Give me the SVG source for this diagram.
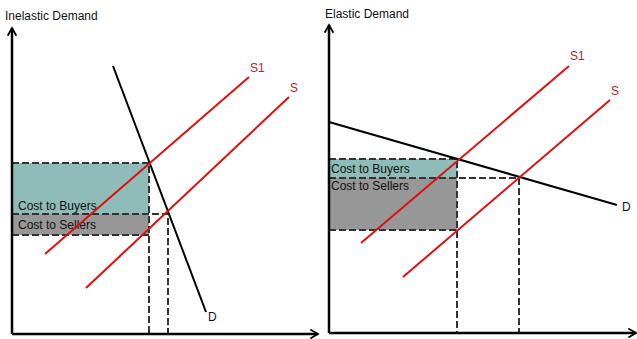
<svg xmlns="http://www.w3.org/2000/svg" width="637" height="339" viewBox="0 0 637 339">
<style>
text{font-family:"Liberation Sans",Arial,sans-serif;font-size:12px;fill:#111}
.red{fill:#c41a1a}
.axis{stroke:#000;stroke-width:2.5;fill:none}
.dem{stroke:#000;stroke-width:2;fill:none}
.sup{stroke:#dd1010;stroke-width:2;fill:none}
.dash{stroke:#333;stroke-width:2;stroke-dasharray:7,3;fill:none}
.buy{fill:#8fbcb8}
.sell{fill:#979797}
</style>
<defs>
<marker id="ah" viewBox="0 0 10 10" refX="8" refY="5" markerWidth="4.4" markerHeight="4.4" orient="auto" markerUnits="strokeWidth">
<path d="M1,1 L8,5 L1,9" fill="none" stroke="#000" stroke-width="1.6"/>
</marker>
</defs>
<g id="left-chart">
<text x="5" y="20">Inelastic Demand</text>
<g id="left-areas">
<rect class="buy" x="12" y="163" width="137" height="51"/>
<rect class="sell" x="12" y="214" width="137" height="21"/>
<text x="18" y="210">Cost to Buyers</text>
<text x="18" y="229">Cost to Sellers</text>
</g>
<g id="left-lines">
<path class="dash" d="M12,163H149V334M12,214H168V334M12,235H149"/>
<path class="dem" d="M113,66L206,312"/>
<path class="sup" d="M45,254L249,77"/>
<path class="sup" d="M86,288L289,97"/>
<path class="axis" d="M12,334V28" marker-end="url(#ah)"/>
<path class="axis" d="M12,334H318" marker-end="url(#ah)"/>
</g>
<text x="208" y="321">D</text>
<text class="red" x="250" y="72">S1</text>
<text class="red" x="290" y="92">S</text>
</g>
<g id="right-chart">
<text x="325" y="18">Elastic Demand</text>
<g id="right-areas">
<rect class="buy" x="329" y="159" width="128" height="19"/>
<rect class="sell" x="329" y="178" width="128" height="52"/>
<text x="331" y="173">Cost to Buyers</text>
<text x="331" y="190">Cost to Sellers</text>
</g>
<g id="right-lines">
<path class="dash" d="M329,159H457V333M329,178H519V333M329,230H457"/>
<path class="dem" d="M329,122L617,205"/>
<path class="sup" d="M361,243L569,66"/>
<path class="sup" d="M403,277L610,100"/>
<path class="axis" d="M329,333V25" marker-end="url(#ah)"/>
<path class="axis" d="M329,333H636" marker-end="url(#ah)"/>
</g>
<text x="622" y="211">D</text>
<text class="red" x="570" y="60">S1</text>
<text class="red" x="611" y="95">S</text>
</g>
</svg>
